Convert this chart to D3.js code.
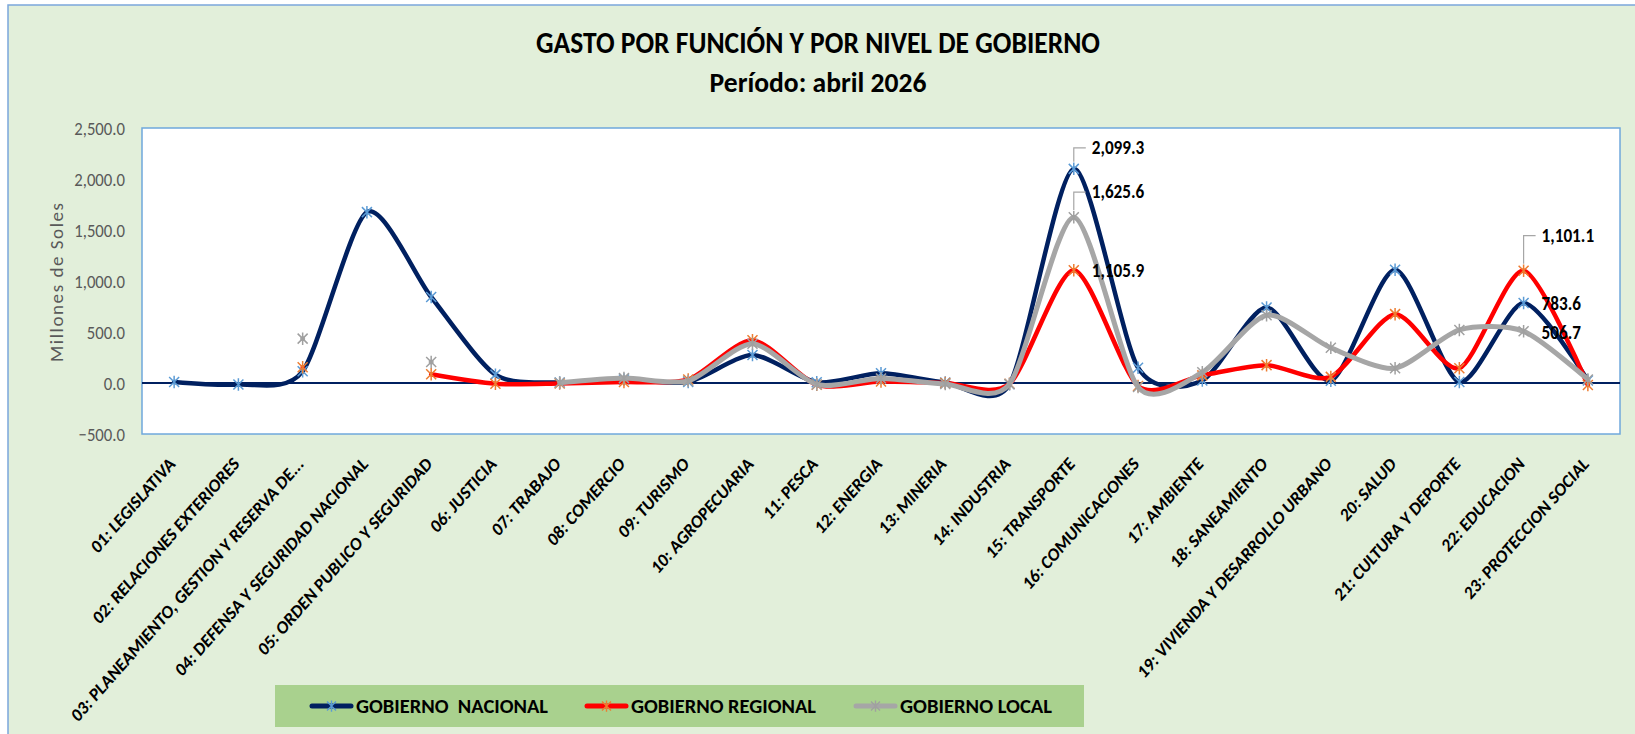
<!DOCTYPE html>
<html>
<head>
<meta charset="utf-8">
<script src="https://cdn.jsdelivr.net/npm/d3@7"></script>
<style>
  html, body { margin: 0; padding: 0; background: #fff; }
  svg { display: block; font-family: Carlito, "Liberation Sans", Arial, sans-serif; }
</style>
</head>
<body>
<svg id="chart" width="1635" height="734"></svg>
<script>
// data (millones de soles)
const categories = [
  '01: LEGISLATIVA', '02: RELACIONES EXTERIORES', '03: PLANEAMIENTO, GESTION Y RESERVA DE...',
  '04: DEFENSA Y SEGURIDAD NACIONAL', '05: ORDEN PUBLICO Y SEGURIDAD', '06: JUSTICIA',
  '07: TRABAJO', '08: COMERCIO', '09: TURISMO', '10: AGROPECUARIA', '11: PESCA',
  '12: ENERGIA', '13: MINERIA', '14: INDUSTRIA', '15: TRANSPORTE', '16: COMUNICACIONES',
  '17: AMBIENTE', '18: SANEAMIENTO', '19: VIVIENDA Y DESARROLLO URBANO', '20: SALUD',
  '21: CULTURA Y DEPORTE', '22: EDUCACION', '23: PROTECCION SOCIAL'
]
const nacional = [10, -15, 115, 1675, 843, 82, 5, 35, 10, 275, 8, 95, 5, -12, 2099.3, 150, 25, 740, 22, 1110, 10, 783.6, 25]
const regional = [null, null, 155, null, 85, -8, -5, 10, 35, 420, -18, 15, 0, -8, 1105.9, -30, 75, 175, 60, 675, 145, 1101.1, -20]
const local = [null, null, 435, null, 206, null, 2, 48, 20, 385, -15, 45, -10, -10, 1625.6, -40, 105, 665, 345, 145, 520, 506.7, 35]
const yTicks = [-500, 0, 500, 1000, 1500, 2000, 2500]
const seriesNames = ['GOBIERNO  NACIONAL', 'GOBIERNO REGIONAL', 'GOBIERNO LOCAL']

const width = 1635
const height = 734
const plot = { left: 142, right: 1620, top: 128, bottom: 434 }
const squeezeX = 0.88 // the source picture is narrower than it is tall

const styles = [
  { line: '#002060', marker: '#5B9BD5', width: 4.5 },
  { line: '#FF0000', marker: '#ED7D31', width: 4.5 },
  { line: '#A6A6A6', marker: '#A0A0A0', width: 5 }
]
const seriesValues = [nacional, regional, local]

// which points carry a value label, and where it sits
const labelSpecs = [
  { s: 0, i: 14, dy: -15, leader: true },
  { s: 2, i: 14, dy: -19, leader: true },
  { s: 1, i: 14, dy: 7, leader: false },
  { s: 1, i: 21, dy: -29, leader: true },
  { s: 0, i: 21, dy: 7, leader: false },
  { s: 2, i: 21, dy: 8, leader: false }
]

function squeeze (sel) {
  sel.each(function () {
    const w = this.getComputedTextLength()
    d3.select(this).attr('textLength', w * squeezeX).attr('lengthAdjust', 'spacingAndGlyphs')
  })
}

const svg = d3.select('#chart')

// chart area
svg.append('rect')
  .attr('x', 8).attr('y', 5)
  .attr('width', width).attr('height', height)
  .attr('fill', '#E2EFDA')
  .attr('stroke', '#7BA7DB')
  .attr('stroke-width', 1.5)

const x = d3.scaleBand().domain(categories).range([plot.left, plot.right])
const cx = c => x(c) + x.bandwidth() / 2
const y = d3.scaleLinear().domain([-500, 2500]).range([plot.bottom, plot.top])

// plot area
svg.append('rect')
  .attr('x', plot.left).attr('y', plot.top)
  .attr('width', plot.right - plot.left).attr('height', plot.bottom - plot.top)
  .attr('fill', '#fff')
  .attr('stroke', '#6FA8DC')
  .attr('stroke-width', 1.5)

// titles
svg.append('text')
  .attr('x', 818).attr('y', 53)
  .attr('text-anchor', 'middle')
  .attr('font-size', 30).attr('font-weight', 'bold')
  .attr('textLength', 564).attr('lengthAdjust', 'spacingAndGlyphs')
  .text('GASTO POR FUNCIÓN Y POR NIVEL DE GOBIERNO')

svg.append('text')
  .attr('x', 818).attr('y', 92)
  .attr('text-anchor', 'middle')
  .attr('font-size', 29).attr('font-weight', 'bold')
  .attr('textLength', 217).attr('lengthAdjust', 'spacingAndGlyphs')
  .text('Período: abril 2026')

// y axis
const yAxis = svg.append('g')
  .attr('transform', `translate(${plot.left},0)`)
  .call(d3.axisLeft(y).tickValues(yTicks).tickFormat(d3.format(',.1f')).tickSize(0).tickPadding(17))
yAxis.select('.domain').remove()
yAxis.selectAll('text')
  .attr('font-size', 19)
  .attr('font-family', 'Carlito, "Liberation Sans", Arial, sans-serif')
  .attr('fill', '#595959')
  .call(squeeze)

svg.append('text')
  .attr('transform', 'translate(63,282.5) rotate(-90)')
  .attr('text-anchor', 'middle')
  .attr('font-size', 19)
  .attr('fill', '#595959')
  .attr('textLength', 159).attr('lengthAdjust', 'spacing')
  .text('Millones de Soles')

// x axis labels
const xAxis = svg.append('g')
  .attr('transform', `translate(0,${plot.bottom})`)
  .call(d3.axisBottom(x).tickSize(0))
xAxis.select('.domain').remove()
xAxis.selectAll('text')
  .attr('x', 0).attr('y', 0).attr('dy', 0)
  .attr('transform', `translate(2,31) scale(${squeezeX},1) rotate(-45)`)
  .style('text-anchor', 'end')
  .attr('font-size', 19)
  .attr('font-weight', 'bold')
  .attr('font-family', 'Carlito, "Liberation Sans", Arial, sans-serif')
  .attr('fill', '#000')

// zero line
svg.append('line')
  .attr('x1', plot.left).attr('x2', plot.right)
  .attr('y1', y(0)).attr('y2', y(0))
  .attr('stroke', '#002060')
  .attr('stroke-width', 2)

const starPath = s => `M${-s},${-s}L${s},${s}M${-s},${s}L${s},${-s}M0,${-s * 1.25}L0,${s * 1.25}`

const line = d3.line()
  .defined(d => d.v != null)
  .x(d => cx(d.c))
  .y(d => y(d.v))
  .curve(d3.curveCardinal.tension(0.25))

seriesValues.forEach((vals, k) => {
  const pts = categories.map((c, i) => ({ c, v: vals[i] }))
  const g = svg.append('g')
  g.append('path')
    .datum(pts)
    .attr('d', line)
    .attr('fill', 'none')
    .attr('stroke', styles[k].line)
    .attr('stroke-width', styles[k].width)
    .attr('stroke-linecap', 'round')
    .attr('stroke-linejoin', 'round')
  g.selectAll('path.mk')
    .data(pts.filter(d => d.v != null))
    .enter()
    .append('path')
    .attr('class', 'mk')
    .attr('transform', d => `translate(${cx(d.c)},${y(d.v)})`)
    .attr('d', starPath(5))
    .attr('fill', 'none')
    .attr('stroke', styles[k].marker)
    .attr('stroke-width', 1.5)
})

// value labels
const fmt = d3.format(',.1f')
labelSpecs.forEach(l => {
  const v = seriesValues[l.s][l.i]
  const px = cx(categories[l.i])
  const py = y(v)
  const by = py + l.dy
  if (l.leader) {
    const ly = by - 6
    svg.append('path')
      .attr('d', `M${px},${py - 7}L${px},${ly}L${px + 12},${ly}`)
      .attr('fill', 'none')
      .attr('stroke', '#A6A6A6')
      .attr('stroke-width', 1.2)
  }
  svg.append('text')
    .attr('x', px + 18).attr('y', by)
    .attr('font-size', 19.5).attr('font-weight', 'bold')
    .attr('fill', '#000')
    .text(fmt(v))
    .call(squeeze)
})

// legend
const legend = svg.append('g')
legend.append('rect')
  .attr('x', 275).attr('y', 685)
  .attr('width', 809).attr('height', 42)
  .attr('fill', '#A9D18E')

const legendItems = [
  { x: 312, w: 192 },
  { x: 587, w: 185 },
  { x: 856, w: 152 }
]
seriesNames.forEach((name, k) => {
  const it = legendItems[k]
  legend.append('line')
    .attr('x1', it.x).attr('x2', it.x + 39)
    .attr('y1', 706).attr('y2', 706)
    .attr('stroke', styles[k].line)
    .attr('stroke-width', 5)
    .attr('stroke-linecap', 'round')
  legend.append('path')
    .attr('transform', `translate(${it.x + 19.5},706)`)
    .attr('d', starPath(4.5))
    .attr('fill', 'none')
    .attr('stroke', styles[k].marker)
    .attr('stroke-width', 1.4)
  legend.append('text')
    .attr('x', it.x + 44).attr('y', 713)
    .attr('font-size', 21).attr('font-weight', 'bold')
    .attr('fill', '#000')
    .attr('textLength', it.w).attr('lengthAdjust', 'spacingAndGlyphs')
    .style('white-space', 'pre')
    .text(name)
})
</script>
</body>
</html>
